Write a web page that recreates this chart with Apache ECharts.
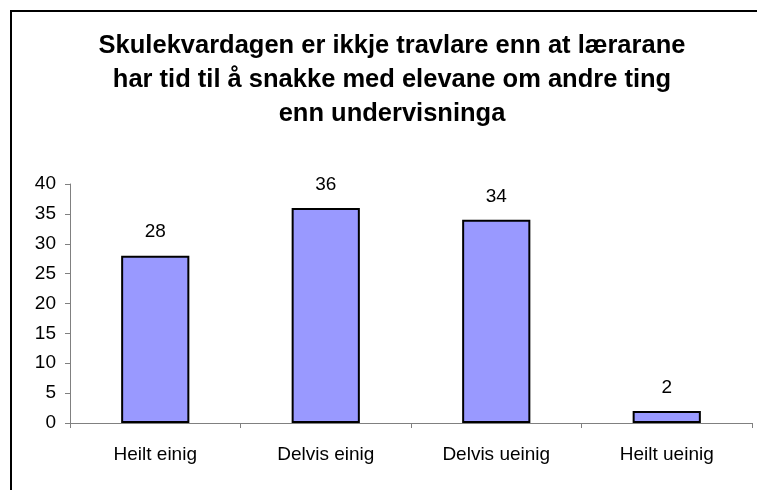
<!DOCTYPE html>
<html><head><meta charset="utf-8">
<script src="https://cdn.jsdelivr.net/npm/echarts@6/dist/echarts.min.js"></script>
<style>html,body{margin:0;padding:0;background:#fff}#c{width:757px;height:490px}</style>
</head><body><div id="c"></div>
<script>
const titleText = "Skulekvardagen er ikkje travlare enn at lærarane\nhar tid til å snakke med elevane om andre ting\nenn undervisninga";
const categories = ["Heilt einig", "Delvis einig", "Delvis ueinig", "Heilt ueinig"];
const values = [28, 36, 34, 2];
const yTicks = {min: 0, max: 40, interval: 5};

const chart = echarts.init(document.getElementById('c'), null, {renderer: 'canvas'});
chart.setOption({
  backgroundColor: '#fff',
  animation: false,
  title: {
    text: titleText,
    left: 387, top: 24, textAlign: 'center',
    textStyle: {fontFamily: 'Liberation Sans, Arial', fontWeight: 'bold', fontSize: 25.5, lineHeight: 34, color: '#000'}
  },
  graphic: [{
    type: 'rect', shape: {x: 11, y: 11, width: 800, height: 600},
    style: {fill: null, stroke: '#000', lineWidth: 2}, silent: true
  }],
  grid: {left: 70, right: 5, top: 184, bottom: 67, containLabel: false},
  xAxis: {
    type: 'category', data: categories,
    axisLine: {lineStyle: {color: '#808080', width: 1}},
    axisTick: {show: true, alignWithLabel: false, length: 5, lineStyle: {color: '#808080'}},
    axisLabel: {fontFamily: 'Liberation Sans, Arial', fontSize: 19, color: '#000', margin: 22}
  },
  yAxis: {
    type: 'value', min: yTicks.min, max: yTicks.max, interval: yTicks.interval,
    axisLine: {show: true, lineStyle: {color: '#808080', width: 1}},
    axisTick: {show: true, length: 5, lineStyle: {color: '#808080'}},
    splitLine: {show: false},
    axisLabel: {fontFamily: 'Liberation Sans, Arial', fontSize: 19, color: '#000', margin: 14}
  },
  series: [{
    type: 'bar', data: values, barWidth: '40%',
    itemStyle: {color: '#9999FF', borderColor: '#000', borderWidth: 2},
    label: {show: true, position: 'top', distance: 14, fontFamily: 'Liberation Sans, Arial', fontSize: 19, color: '#000'}
  }]
});
</script></body></html>
